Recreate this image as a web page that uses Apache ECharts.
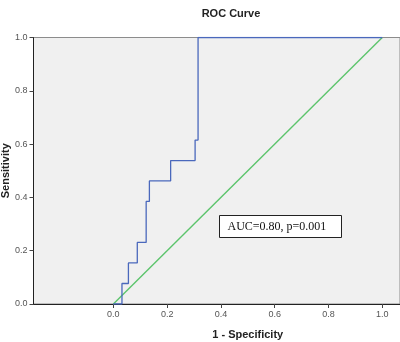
<!DOCTYPE html>
<html>
<head>
<meta charset="utf-8">
<script src="https://cdn.jsdelivr.net/npm/echarts@6/dist/echarts.min.js"></script>
<style>
  html, body { margin: 0; padding: 0; background: #fff; }
  #chart { width: 400px; height: 342px; }
</style>
</head>
<body>
<div id="chart"></div>
<script>
// ROC curve points (1 - specificity, sensitivity), stepwise
const fpr = [0.000, 0.032, 0.032, 0.056, 0.056, 0.089, 0.089, 0.122, 0.122, 0.134, 0.134, 0.213, 0.213, 0.304, 0.304, 0.315, 0.315, 1.000];
const tpr = [0.000, 0.000, 0.077, 0.077, 0.154, 0.154, 0.231, 0.231, 0.385, 0.385, 0.462, 0.462, 0.538, 0.538, 0.615, 0.615, 1.000, 1.000];
// Reference diagonal
const refX = [0, 1];
const refY = [0, 1];
// Axis tick labels
const ticks = [0, 0.2, 0.4, 0.6, 0.8, 1.0];
const auc = 0.80;
const pValue = '0.001';

const chart = echarts.init(document.getElementById('chart'));

const axisFont = { fontFamily: 'Liberation Sans, Arial, sans-serif', fontSize: 9, color: '#555' };
const nameFont = { fontFamily: 'Liberation Sans, Arial, sans-serif', fontSize: 11, fontWeight: 'bold', color: '#222' };

chart.setOption({
  animation: false,
  title: {
    text: 'ROC Curve',
    left: 226,
    top: 3,
    textAlign: 'center',
    textStyle: { fontFamily: 'Liberation Sans, Arial, sans-serif', fontSize: 11, fontWeight: 'bold', color: '#222' }
  },
  grid: {
    left: 33.5, right: 0, top: 37.5, bottom: 38,
    containLabel: false,
    outerBoundsMode: 'none',
    show: true,
    backgroundColor: '#F0F0F0',
    borderColor: '#8c8c8c',
    borderWidth: 1
  },
  xAxis: {
    type: 'value',
    min: -0.297,
    max: 1.066,
    name: '1 - Specificity',
    nameLocation: 'middle',
    nameGap: 25,
    nameMoveOverlap: false,
    nameTextStyle: Object.assign({ padding: [0, 0, 0, 62] }, nameFont),
    axisLine: { show: true, onZero: false, lineStyle: { color: '#222', width: 1 } },
    axisTick: { show: true, customValues: ticks, length: 4, lineStyle: { color: '#444' } },
    axisLabel: Object.assign({ customValues: ticks, formatter: v => v.toFixed(1), margin: 6 }, axisFont),
    splitLine: { show: false }
  },
  yAxis: {
    type: 'value',
    min: 0,
    max: 1,
    name: 'Sensitivity',
    nameLocation: 'middle',
    nameGap: 22,
    nameMoveOverlap: false,
    nameTextStyle: nameFont,
    axisLine: { show: true, onZero: false, lineStyle: { color: '#222', width: 1 } },
    axisTick: { show: true, customValues: ticks, length: 4, lineStyle: { color: '#444' } },
    axisLabel: Object.assign({ customValues: ticks, formatter: v => v.toFixed(1), margin: 6 }, axisFont),
    splitLine: { show: false }
  },
  series: [
    {
      name: 'Reference',
      type: 'line',
      data: refX.map((x, i) => [x, refY[i]]),
      symbol: 'none',
      lineStyle: { color: '#5cc46c', width: 1.4 },
      z: 2
    },
    {
      name: 'ROC',
      type: 'line',
      data: fpr.map((x, i) => [x, tpr[i]]),
      symbol: 'none',
      lineStyle: { color: '#4a68bc', width: 1.3 },
      z: 3
    }
  ],
  graphic: [
    {
      type: 'group',
      left: 219,
      top: 215,
      children: [
        {
          type: 'rect',
          shape: { x: 0, y: 0, width: 122, height: 22 },
          style: { fill: '#fff', stroke: '#222', lineWidth: 1 }
        },
        {
          type: 'text',
          x: 8,
          y: 11,
          style: {
            text: 'AUC=' + auc.toFixed(2) + ', p=' + pValue,
            font: '12px "Liberation Serif", "Times New Roman", serif',
            fill: '#111',
            verticalAlign: 'middle'
          }
        }
      ]
    }
  ]
});
</script>
</body>
</html>
